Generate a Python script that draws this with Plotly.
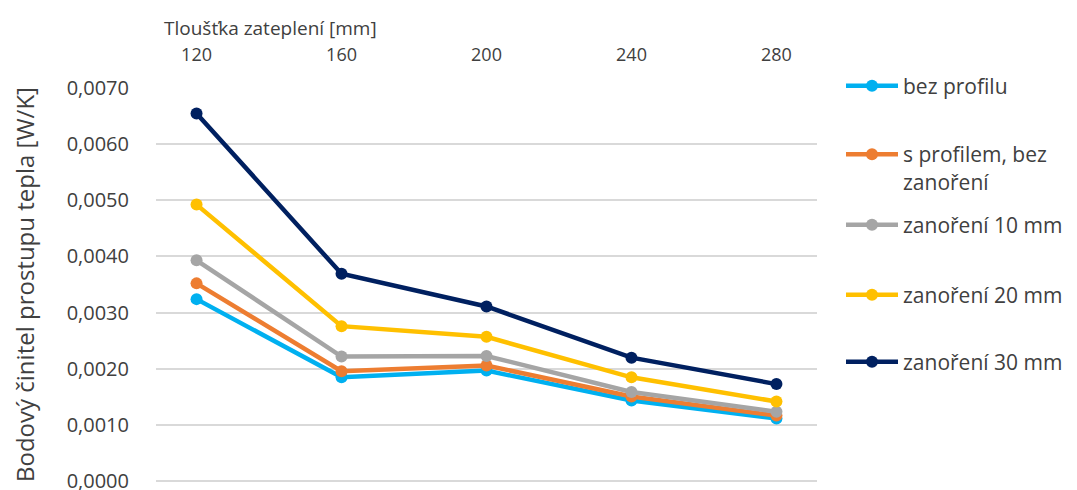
import plotly.graph_objects as go

thickness = ["120", "160", "200", "240", "280"]
bez_profilu = [0.00324, 0.00185, 0.00197, 0.00144, 0.00112]
s_profilem = [0.00352, 0.00196, 0.00206, 0.00151, 0.00117]
zanoreni_10 = [0.00393, 0.00222, 0.00223, 0.00159, 0.00124]
zanoreni_20 = [0.00492, 0.00276, 0.00257, 0.00185, 0.00142]
zanoreni_30 = [0.00654, 0.00369, 0.00311, 0.00220, 0.00173]

series_names = ["bez profilu", "s profilem, bez<br>zanoření", "zanoření 10 mm",
                "zanoření 20 mm", "zanoření 30 mm"]
series_values = [bez_profilu, s_profilem, zanoreni_10, zanoreni_20, zanoreni_30]
colors = ["#00B0F0", "#ED7D31", "#A5A5A5", "#FFC000", "#002060"]

FONT = "Open Sans"
TXT = "#404040"

# target page pixels (body has an 8px default margin)
OFF = 8
W, H = 1077 - OFF, 490 - OFF
L, R, T, B = 156, 817, 87, 482   # plot area on page

def px(xpx):
    return (xpx - L) / (R - L)

def py(ypx):
    return (B - ypx) / (B - T)

legend_y = [86, 134, 225, 295, 362]

fig = go.Figure()
legend_layout = {}
for i, (name, vals, col) in enumerate(zip(series_names, series_values, colors)):
    lname = "legend" if i == 0 else f"legend{i+1}"
    fig.add_trace(go.Scatter(
        x=thickness, y=vals, name=name, mode="lines+markers",
        line=dict(color=col, width=4.5),
        marker=dict(color=col, size=12),
        legend=lname,
    ))
    legend_layout[lname] = dict(
        x=px(841), xanchor="left",
        y=py(legend_y[i]),
        yanchor="middle" if i != 1 else "top",
        valign="top",
        font=dict(family=FONT, size=21, color=TXT),
        bgcolor="rgba(0,0,0,0)",
        itemwidth=52,
    )

fig.update_layout(
    width=W, height=H,
    margin=dict(l=L - OFF, r=W - (R - OFF), t=T - OFF, b=H - (B - OFF), autoexpand=False),
    paper_bgcolor="white", plot_bgcolor="white",
    separators=", ",
    font=dict(family=FONT, size=18, color=TXT),
    showlegend=True,
    **legend_layout,
    xaxis=dict(
        type="category", side="top", automargin=False,
        showgrid=False, showline=False, zeroline=False,
        ticks="", ticklabelstandoff=21,
        tickfont=dict(family=FONT, size=18, color=TXT),
    ),
    yaxis=dict(
        range=[-0.00001, 0.00701], dtick=0.001, tick0=0, tickformat=".4f", automargin=False,
        showgrid=True, gridcolor="#D9D9D9", gridwidth=1.5,
        showline=False, zeroline=True, zerolinecolor="#D9D9D9", zerolinewidth=1.5,
        ticks="", ticklabelstandoff=26, ticklabeloverflow="allow",
        tickfont=dict(family=FONT, size=20, color=TXT),
    ),
    annotations=[
        dict(text="Tloušťka zateplení [mm]", xref="paper", yref="paper",
             x=px(162), y=py(28), xanchor="left", yanchor="middle",
             showarrow=False, font=dict(family=FONT, size=19, color=TXT)),
        dict(text="Bodový činitel prostupu tepla [W/K]", xref="paper", yref="paper",
             x=px(24), y=py(285), xanchor="center", yanchor="middle", textangle=-90,
             showarrow=False, font=dict(family=FONT, size=24, color=TXT)),
    ],
)

fig.write_html("out.html")
